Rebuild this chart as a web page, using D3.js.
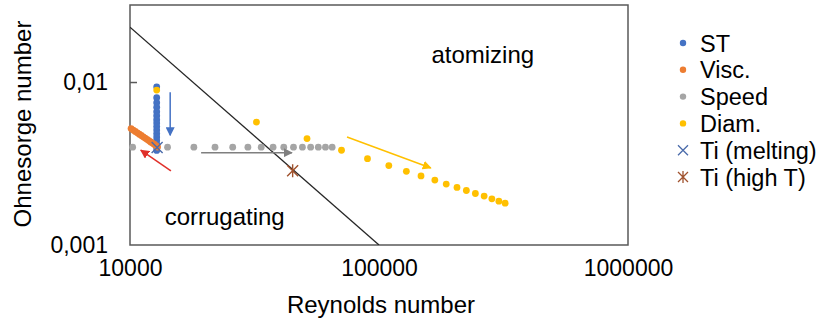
<!DOCTYPE html>
<html>
<head>
<meta charset="utf-8">
<script src="https://cdn.jsdelivr.net/npm/d3@7"></script>
<style>
  body { margin: 0; background: #fff; }
  text { font-family: "Liberation Sans", Arial, sans-serif; fill: #000; }
</style>
</head>
<body>
<div id="chart"></div>
<script>
// ---- data ----
const reTicks = [10000, 100000, 1000000];
const ohTicks = [0.001, 0.01];

const stRe = [12800, 12800, 12800, 12800, 12800, 12800, 12800, 12800, 12800, 12800, 12800, 12800, 12800, 12800, 12800, 12800];
const stOh = [0.00941, 0.00806, 0.00751, 0.00705, 0.00662, 0.00625, 0.00591, 0.00563, 0.00536, 0.00510, 0.00485, 0.00462, 0.00440, 0.00418, 0.00398, 0.00382];

const viscRe = [10100, 10300, 10500, 10700, 10900, 11100, 11300, 11500, 11700, 11900, 12100, 12300, 12500, 12700, 12900];
const viscOh = [0.00521, 0.00510, 0.00500, 0.00490, 0.00481, 0.00472, 0.00463, 0.00455, 0.00447, 0.00439, 0.00431, 0.00424, 0.00417, 0.00409, 0.00401];

const speedRe = [10250, 14150, 18050, 21950, 25850, 29750, 33650, 37550, 41450, 45350, 49250, 53150, 57050, 60950, 64850];
const speedOh = [0.0040, 0.0040, 0.0040, 0.0040, 0.0040, 0.0040, 0.0040, 0.0040, 0.0040, 0.0040, 0.0040, 0.0040, 0.0040, 0.0040, 0.0040];

const diamRe = [12800, 32200, 51400, 70700, 89900, 109500, 128800, 147500, 167600, 186200, 205700, 224300, 243800, 264400, 284000, 303000, 321000];
const diamOh = [0.00898, 0.00571, 0.00452, 0.00383, 0.00340, 0.00308, 0.00284, 0.00266, 0.00251, 0.00237, 0.00226, 0.002165, 0.002075, 0.00200, 0.001923, 0.00186, 0.00181];

const tiMeltRe = [12850];
const tiMeltOh = [0.00398];
const tiHighRe = [45000];
const tiHighOh = [0.00286];

// regime boundary line
const boundaryRe = [10000, 100000];
const boundaryOh = [0.0219, 0.001];

// trend arrows: [Re, Oh] start and end
const arrowColors = ["#4472C4", "#E0302A", "#7F7F7F", "#FFC000"];
const arrowFrom = [[14500, 0.00872], [14600, 0.00286], [19300, 0.0037], [74400, 0.00462]];
const arrowTo = [[14500, 0.00473], [11050, 0.00383], [44700, 0.0037], [161500, 0.00298]];

const series = [
  { name: "ST", re: stRe, oh: stOh, color: "#4472C4", shape: "dot" },
  { name: "Visc.", re: viscRe, oh: viscOh, color: "#ED7D31", shape: "dot" },
  { name: "Speed", re: speedRe, oh: speedOh, color: "#A5A5A5", shape: "dot" },
  { name: "Diam.", re: diamRe, oh: diamOh, color: "#FFC000", shape: "dot" },
  { name: "Ti (melting)", re: tiMeltRe, oh: tiMeltOh, color: "#4A6BAA", shape: "x" },
  { name: "Ti (high T)", re: tiHighRe, oh: tiHighOh, color: "#A0522D", shape: "star" }
];

// ---- layout ----
const W = 823, H = 322;
const margin = { left: 130, top: 5, right: 195, bottom: 77 };
const pw = W - margin.left - margin.right;
const ph = H - margin.top - margin.bottom;

const svg = d3.select("#chart").append("svg").attr("width", W).attr("height", H);

const defs = svg.append("defs");
arrowColors.forEach(function (c, i) {
  defs.append("marker")
    .attr("id", "arr" + i)
    .attr("viewBox", "0 0 10 10")
    .attr("refX", 9).attr("refY", 5)
    .attr("markerWidth", 6).attr("markerHeight", 6)
    .attr("markerUnits", "strokeWidth")
    .attr("orient", "auto")
    .append("path").attr("d", "M0,0 L10,5 L0,10 z").attr("fill", c);
});

const x = d3.scaleLog().domain([1e4, 1e6]).range([0, pw]);
const y = d3.scaleLog().domain([0.001, 0.03]).range([ph, 0]);

const g = svg.append("g").attr("transform", `translate(${margin.left},${margin.top})`);

// plot box
g.append("rect").attr("width", pw).attr("height", ph)
  .attr("fill", "none").attr("stroke", "#595959").attr("stroke-width", 1.5);

// y axis: inner tick, comma decimals
const yAxis = d3.axisLeft(y).tickValues(ohTicks).tickSize(0).tickPadding(22)
  .tickFormat(d => d3.format("")(d).replace(".", ","));
const ya = g.append("g").call(yAxis);
ya.select(".domain").remove();
ya.selectAll("text").style("font-size", "23px");
g.selectAll(".ytick").data(ohTicks.slice(1)).enter().append("line")
  .attr("x1", 0).attr("x2", 7).attr("y1", d => y(d)).attr("y2", d => y(d))
  .attr("stroke", "#595959").attr("stroke-width", 1.5);

// x axis
const xAxis = d3.axisBottom(x).tickValues(reTicks).tickSize(0).tickPadding(15)
  .tickFormat(d3.format("d"));
const xa = g.append("g").attr("transform", `translate(0,${ph})`).call(xAxis);
xa.select(".domain").remove();
xa.selectAll("text").style("font-size", "23px");

// axis titles
svg.append("text").attr("x", margin.left + pw / 2 + 2).attr("y", 313)
  .attr("text-anchor", "middle").style("font-size", "24px").text("Reynolds number");
svg.append("text").attr("transform", `translate(31,${margin.top + 119}) rotate(-90)`)
  .attr("text-anchor", "middle").style("font-size", "24px").text("Ohnesorge number");

// region labels
g.append("text").attr("x", x(261000)).attr("y", y(0.0131))
  .attr("text-anchor", "middle").style("font-size", "24px").text("atomizing");
g.append("text").attr("x", x(24000)).attr("y", y(0.00133))
  .attr("text-anchor", "middle").style("font-size", "24px").text("corrugating");

// boundary line
const clip = defs.append("clipPath").attr("id", "plotclip");
clip.append("rect").attr("width", pw).attr("height", ph);
g.append("path")
  .attr("clip-path", "url(#plotclip)")
  .attr("d", d3.line().x(d => x(d[0])).y(d => y(d[1]))(boundaryRe.map((r, i) => [r, boundaryOh[i]])))
  .attr("stroke", "#262626").attr("stroke-width", 1.3).attr("fill", "none");

// series
series.forEach(function (s) {
  const pts = s.re.map((r, i) => [x(r), y(s.oh[i])]);
  const sg = g.append("g");
  if (s.shape === "dot") {
    sg.selectAll("circle").data(pts).enter().append("circle")
      .attr("cx", d => d[0]).attr("cy", d => d[1]).attr("r", 3.4)
      .attr("fill", s.color);
  } else {
    const k = 5.5;
    pts.forEach(function (p) {
      sg.append("path")
        .attr("d", `M${p[0] - k},${p[1] - k}L${p[0] + k},${p[1] + k}M${p[0] - k},${p[1] + k}L${p[0] + k},${p[1] - k}` +
          (s.shape === "star" ? `M${p[0]},${p[1] - k - 1}L${p[0]},${p[1] + k + 1}` : ""))
        .attr("stroke", s.color).attr("stroke-width", 1.4).attr("fill", "none");
    });
  }
});

// arrows
arrowColors.forEach(function (c, i) {
  g.append("line")
    .attr("x1", x(arrowFrom[i][0])).attr("y1", y(arrowFrom[i][1]))
    .attr("x2", x(arrowTo[i][0])).attr("y2", y(arrowTo[i][1]))
    .attr("stroke", c).attr("stroke-width", 1.5)
    .attr("marker-end", `url(#arr${i})`);
});

// legend
const lg = svg.append("g").attr("transform", "translate(683,43)");
series.forEach(function (s, i) {
  const row = lg.append("g").attr("transform", `translate(0,${i * 26.8})`);
  if (s.shape === "dot") {
    row.append("circle").attr("r", 3.2).attr("fill", s.color);
  } else {
    const k = 5;
    row.append("path")
      .attr("d", `M${-k},${-k}L${k},${k}M${-k},${k}L${k},${-k}` + (s.shape === "star" ? `M0,${-k - 1}L0,${k + 1}` : ""))
      .attr("stroke", s.color).attr("stroke-width", 1.3).attr("fill", "none");
  }
  row.append("text").attr("x", 17).attr("y", 8.5).style("font-size", "23.5px").text(s.name);
});
</script>
</body>
</html>
